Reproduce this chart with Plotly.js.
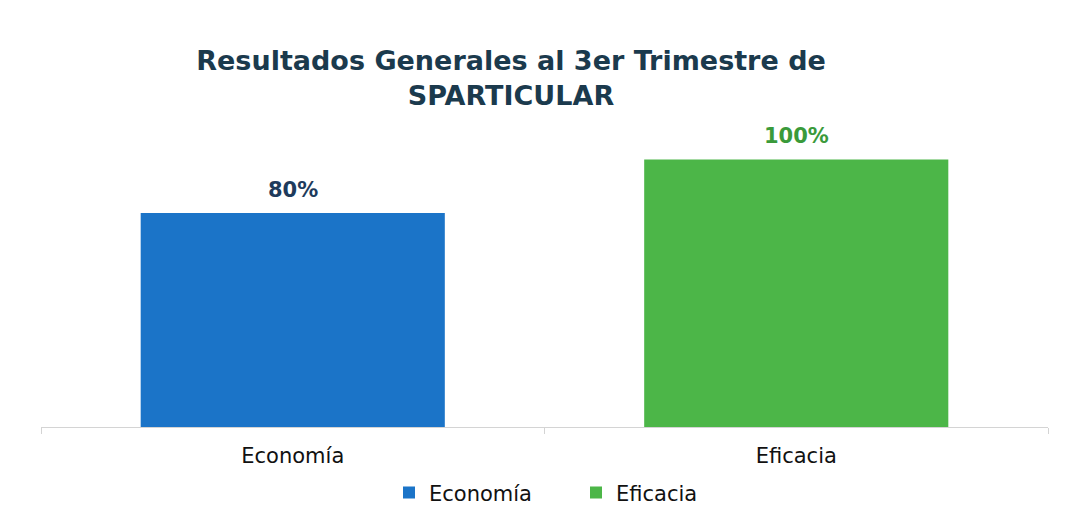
<!DOCTYPE html>
<html><head><meta charset="utf-8">
<script src="https://cdn.plot.ly/plotly-3.0.1.min.js"></script>
<style>html,body{margin:0;padding:0;background:#fff}#c{width:1070px;height:521px}</style>
</head><body><div id="c"></div>
<script>
const categories = ["Economía", "Eficacia"];
const values = [80, 100];
const labels = ["80%", "100%"];
const colors = ["#1b74c8", "#4cb648"];
const labelColors = ["#1e3b5c", "#3a9a3a"];

const FONT = 'DejaVu Sans, sans-serif';

const traces = categories.map((c, i) => ({
  type: 'bar', name: c, x: [c], y: [values[i]],
  marker: {color: colors[i]}, hoverinfo: 'none', offsetgroup: 'a'
}));

const annotations = categories.map((c, i) => ({
  x: c, y: values[i], xref: 'x', yref: 'y', text: labels[i], showarrow: false,
  yanchor: 'bottom', yshift: 9,
  font: {family: FONT, size: 21, weight: 700, color: labelColors[i]}
}));

const layout = {
  width: 1070, height: 521,
  margin: {l: 41, r: 22, t: 100, b: 94, autoexpand: false},
  paper_bgcolor: '#fff', plot_bgcolor: '#fff',
  title: {text: 'Resultados Generales al 3er Trimestre de<br>SPARTICULAR', x: 0.4776, xref: 'container', xanchor: 'center',
          y: 0.865, yref: 'container', yanchor: 'top',
          font: {family: FONT, size: 27, weight: 700, color: '#1b3a4d'}},
  bargap: 0.396,
  xaxis: {type: 'category', showgrid: false, showline: true, linecolor: '#d4d4d4', linewidth: 1,
          ticks: 'outside', tickson: 'boundaries', ticklen: 6, tickcolor: '#d4d4d4',
          ticklabelstandoff: 10,
          tickfont: {family: FONT, size: 21, color: '#111'}},
  yaxis: {range: [0, 122.2], visible: false, showgrid: false, zeroline: false},
  showlegend: true,
  legend: {orientation: 'h', xref: 'container', x: 389 / 1070, xanchor: 'left', y: -0.139, yanchor: 'top',
           entrywidth: 142,
           font: {family: FONT, size: 21, color: '#111'}, traceorder: 'normal'},
  annotations: annotations
};
Plotly.newPlot('c', traces, layout, {displayModeBar: false, staticPlot: true});
</script></body></html>
